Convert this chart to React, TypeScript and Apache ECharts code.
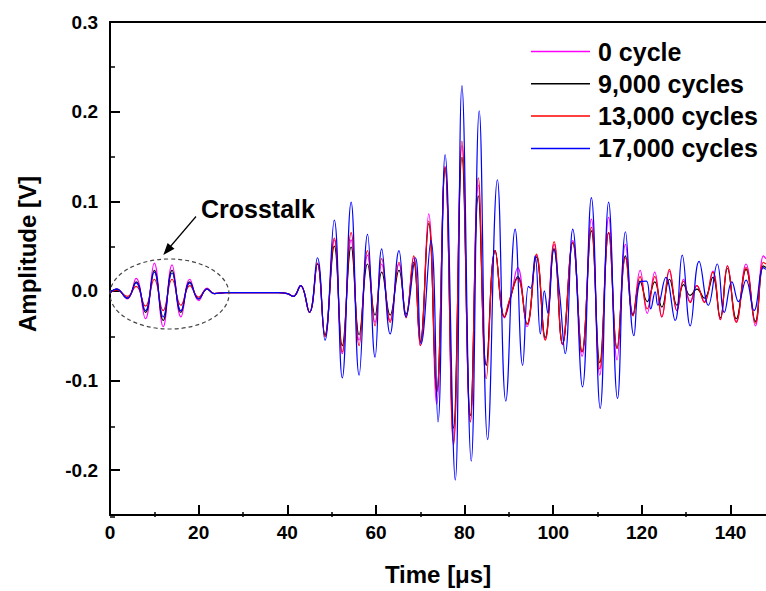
import React, { useEffect, useRef } from "react";
import * as echarts from "echarts";

// ---- data (time in µs, amplitude in V) at peaks/troughs ----
const seriesNames = ["0 cycle", "9,000 cycles", "13,000 cycles", "17,000 cycles"];
const seriesColors = ["#ff00ff", "#000000", "#ff0000", "#0000ff"];

const cycle0: [number, number][] = [
  [0, -0.002], [1.5, 0.002], [3.9, -0.009], [5.9, 0.014], [8.0, -0.031], [10.0, 0.031], [12.0, -0.040],
  [14.0, 0.029], [16.0, -0.029], [18.0, 0.013], [20.0, -0.011], [21.9, 0.003], [23.5, -0.003], [26, -0.002],
  [30, -0.002], [34, -0.002], [38, -0.002], [40, -0.003], [41.4, -0.006], [43.0, 0.006], [45.0, -0.024],
  [46.8, 0.030], [48.5, -0.050], [50.6, 0.057], [52.4, -0.070], [54.4, 0.057], [56.2, -0.055], [58.1, 0.040],
  [59.8, -0.035], [61.3, 0.030], [63.2, -0.033], [65.2, 0.030], [66.8, -0.028], [68.5, 0.037], [70.0, -0.061],
  [71.9, 0.086], [73.7, -0.126], [75.6, 0.139], [77.5, -0.168], [79.4, 0.162], [81.3, -0.146], [83.1, 0.118],
  [84.9, -0.083], [86.9, 0.045], [89.0, -0.030], [90.3, -0.010], [92.0, 0.026], [94.1, -0.040], [96.2, 0.040],
  [98.2, -0.054], [100.2, 0.052], [102.1, -0.060], [104.4, 0.056], [106.5, -0.073], [108.6, 0.080],
  [110.5, -0.094], [112.5, 0.082], [114.4, -0.077], [116.3, 0.052], [118.0, -0.026], [119.6, 0.023],
  [121.2, -0.025], [122.9, 0.021], [124.5, -0.029], [126.2, 0.022], [127.9, -0.022], [129.4, 0.013],
  [130.9, -0.012], [132.4, 0.006], [134.1, -0.012], [136.0, 0.022], [137.7, -0.032], [139.3, 0.028],
  [141.3, -0.034], [143.5, 0.030], [145.6, -0.039], [147.4, 0.039], [148, 0.036],
];

const cycle9000: [number, number][] = [
  [0, -0.002], [1.5, 0.002], [3.9, -0.008], [5.9, 0.010], [8.0, -0.024], [10.0, 0.023], [12.0, -0.033],
  [14.0, 0.023], [16.0, -0.024], [18.0, 0.010], [20.0, -0.009], [21.9, 0.002], [23.5, -0.003], [26, -0.002],
  [30, -0.002], [34, -0.002], [38, -0.002], [40, -0.003], [41.4, -0.006], [43.0, 0.006], [45.0, -0.024],
  [46.8, 0.030], [48.5, -0.049], [50.6, 0.050], [52.4, -0.061], [54.4, 0.049], [56.2, -0.049], [58.1, 0.030],
  [59.8, -0.027], [61.3, 0.021], [63.2, -0.027], [65.2, 0.023], [66.8, -0.026], [68.5, 0.032], [70.0, -0.057],
  [71.9, 0.075], [73.7, -0.113], [75.6, 0.137], [77.5, -0.153], [79.4, 0.149], [81.3, -0.139], [83.1, 0.106],
  [84.9, -0.083], [86.9, 0.045], [89.0, -0.029], [90.3, -0.008], [92.0, 0.016], [94.1, -0.037], [96.2, 0.038],
  [98.2, -0.052], [100.2, 0.047], [102.1, -0.059], [104.4, 0.054], [106.5, -0.068], [108.6, 0.067],
  [110.5, -0.080], [112.5, 0.065], [114.4, -0.064], [116.3, 0.039], [118.0, -0.027], [119.6, 0.011],
  [121.2, -0.012], [122.9, 0.010], [124.5, -0.018], [126.2, 0.013], [127.9, -0.016], [129.4, 0.007],
  [130.9, -0.005], [132.4, 0.002], [134.1, -0.008], [136.0, 0.015], [137.7, -0.030], [139.3, 0.025],
  [141.3, -0.031], [143.5, 0.024], [145.6, -0.034], [147.4, 0.028], [148, 0.026],
];

const cycle13000: [number, number][] = [
  [0, -0.002], [1.5, 0.001], [3.9, -0.006], [5.9, 0.005], [8.0, -0.017], [10.0, 0.013], [12.0, -0.022],
  [14.0, 0.013], [16.0, -0.016], [18.0, 0.006], [20.0, -0.007], [21.9, 0.002], [23.5, -0.003], [26, -0.002],
  [30, -0.002], [34, -0.002], [38, -0.002], [40, -0.003], [41.4, -0.006], [43.0, 0.006], [45.0, -0.024],
  [46.8, 0.031], [48.5, -0.051], [50.6, 0.059], [52.4, -0.068], [54.4, 0.065], [56.2, -0.061], [58.1, 0.045],
  [59.8, -0.039], [61.3, 0.036], [63.2, -0.035], [65.2, 0.032], [66.8, -0.030], [68.5, 0.039], [70.0, -0.061],
  [71.9, 0.078], [73.7, -0.113], [75.6, 0.138], [77.5, -0.172], [79.4, 0.167], [81.3, -0.146], [83.1, 0.126],
  [84.9, -0.098], [86.9, 0.045], [89.0, -0.029], [90.0, -0.012], [92.0, 0.014], [94.1, -0.037], [96.2, 0.041],
  [98.2, -0.055], [100.2, 0.055], [102.1, -0.059], [104.4, 0.054], [106.5, -0.068], [108.6, 0.071],
  [110.5, -0.087], [112.5, 0.065], [114.4, -0.064], [116.3, 0.037], [118.0, -0.028], [119.6, 0.016],
  [121.2, -0.020], [122.9, 0.016], [124.5, -0.029], [126.2, 0.024], [127.9, -0.022], [129.4, 0.011],
  [130.9, -0.013], [132.4, 0.006], [134.1, -0.013], [136.0, 0.021], [137.7, -0.032], [139.3, 0.028],
  [141.3, -0.035], [143.5, 0.026], [145.6, -0.036], [147.4, 0.032], [148, 0.030],
];

const cycle17000: [number, number][] = [
  [0, -0.002], [1.5, 0.002], [3.9, -0.008], [5.9, 0.009], [8.0, -0.022], [10.0, 0.021], [12.0, -0.029],
  [14.0, 0.020], [16.0, -0.022], [18.0, 0.009], [20.0, -0.009], [21.9, 0.002], [23.5, -0.003], [26, -0.002],
  [30, -0.002], [34, -0.002], [38, -0.002], [40, -0.003], [41.4, -0.006], [43.0, 0.006], [45.0, -0.024],
  [46.8, 0.037], [48.5, -0.055], [50.6, 0.079], [52.4, -0.097], [54.4, 0.099], [56.2, -0.094], [58.1, 0.063],
  [59.8, -0.074], [61.3, 0.047], [63.2, -0.048], [65.2, 0.045], [66.8, -0.029], [68.9, 0.037], [70.2, -0.059],
  [72.4, 0.056], [74.0, -0.146], [75.6, 0.152], [77.9, -0.211], [79.4, 0.229], [81.5, -0.190], [83.3, 0.201],
  [85.2, -0.166], [87.4, 0.124], [89.3, -0.123], [91.4, 0.069], [93.1, -0.083], [94.4, 0.005], [94.9, 0.003],
  [95.9, 0.039], [97.1, -0.048], [98.0, 0.0], [98.8, -0.025], [100.1, 0.047], [101.4, -0.001], [102.7, -0.070],
  [104.4, 0.069], [106.6, -0.107], [108.6, 0.104], [110.6, -0.131], [112.5, 0.099], [114.5, -0.120],
  [116.3, 0.066], [118.2, -0.050], [119.6, 0.010], [121.0, 0.011], [122.0, -0.020], [123.0, -0.001],
  [123.6, -0.016], [125.4, 0.015], [127.5, -0.033], [129.1, 0.040], [130.9, -0.039], [132.9, 0.033],
  [135.0, -0.016], [137.0, 0.030], [138.6, -0.024], [140.3, 0.010], [141.8, -0.012], [143.5, 0.012],
  [145.3, -0.022], [147.4, 0.026], [148, 0.024],
];

const seriesData = [cycle0, cycle9000, cycle13000, cycle17000];

const xTicks = [0, 20, 40, 60, 80, 100, 120, 140];
const xMinorTicks = [10, 30, 50, 70, 90, 110, 130];
const yTicks = [-0.2, -0.1, 0.0, 0.1, 0.2, 0.3];
const yMinorTicks = [-0.25, -0.15, -0.05, 0.05, 0.15, 0.25];

const FONT = "'Liberation Sans', Arial, Helvetica, sans-serif";

export default function App() {
  const ref = useRef<HTMLDivElement>(null);

  useEffect(() => {
    if (!ref.current) return;
    const chart = echarts.init(ref.current, null, { renderer: "svg" });

    const labelStyle = { color: "#000", fontSize: 19, fontWeight: "bold" as const, fontFamily: FONT };
    const gridBox = { left: 110, right: 0, top: 22, bottom: 74, containLabel: false };

    const option: any = {
      animation: false,
      backgroundColor: "#fff",
      grid: [gridBox, { ...gridBox }],
      legend: {
        data: seriesNames.map((n, i) => ({ name: n, icon: "rect", itemStyle: { color: seriesColors[i] } })),
        orient: "vertical",
        left: 526,
        top: 34,
        itemWidth: 59,
        itemHeight: 1.5,
        itemGap: 7.3,
        textStyle: { color: "#000", fontSize: 25, fontWeight: "bold", fontFamily: FONT, padding: [0, 0, 0, 3] },
      },
      xAxis: [
        {
          type: "value",
          gridIndex: 0,
          min: 0,
          max: 148,
          position: "bottom",
          name: "Time [\u03bcs]",
          nameLocation: "middle",
          nameGap: 47,
          nameTextStyle: { color: "#000", fontSize: 24, fontWeight: "bold", fontFamily: FONT },
          axisLine: { show: true, onZero: false, lineStyle: { color: "#000", width: 2 } },
          axisTick: { show: true, inside: true, length: 10, customValues: xTicks, lineStyle: { color: "#000", width: 2 } },
          axisLabel: { ...labelStyle, margin: 8, customValues: xTicks },
          splitLine: { show: false },
        },
        {
          type: "value",
          gridIndex: 0,
          min: 0,
          max: 148,
          position: "top",
          axisLine: { show: true, onZero: false, lineStyle: { color: "#000", width: 2 } },
          axisTick: { show: false },
          axisLabel: { show: false },
          splitLine: { show: false },
        },
        {
          type: "value",
          gridIndex: 1,
          min: 0,
          max: 148,
          position: "bottom",
          axisLine: { show: false, onZero: false },
          axisTick: { show: true, inside: true, length: 5, customValues: xMinorTicks, lineStyle: { color: "#000", width: 1.5 } },
          axisLabel: { show: false },
          splitLine: { show: false },
        },
      ],
      yAxis: [
        {
          type: "value",
          gridIndex: 0,
          min: -0.25,
          max: 0.3,
          position: "left",
          axisLine: { show: true, onZero: false, lineStyle: { color: "#000", width: 2 } },
          axisTick: { show: true, inside: true, length: 10, customValues: yTicks, lineStyle: { color: "#000", width: 2 } },
          axisLabel: { ...labelStyle, margin: 12, customValues: yTicks, formatter: (v: number) => v.toFixed(1) },
          splitLine: { show: false },
        },
        {
          type: "value",
          gridIndex: 1,
          min: -0.25,
          max: 0.3,
          position: "left",
          axisLine: { show: false, onZero: false },
          axisTick: { show: true, inside: true, length: 5, customValues: yMinorTicks, lineStyle: { color: "#000", width: 1.5 } },
          axisLabel: { show: false },
          splitLine: { show: false },
        },
      ],
      series: seriesNames.map((name, i) => ({
        name,
        type: "line",
        xAxisIndex: 0,
        yAxisIndex: 0,
        data: seriesData[i],
        smooth: 0.45,
        symbol: "none",
        showSymbol: false,
        clip: true,
        lineStyle: { color: seriesColors[i], width: 1.2 },
        itemStyle: { color: seriesColors[i] },
        z: 2 + i,
      })),
      graphic: [
        {
          type: "text",
          x: 27,
          y: 254,
          rotation: Math.PI / 2,
          style: {
            text: "Amplitude [V]",
            fill: "#000",
            fontSize: 24,
            fontWeight: "bold",
            fontFamily: FONT,
            align: "center",
            verticalAlign: "middle",
          },
        },
        {
          type: "text",
          x: 201,
          y: 209,
          style: {
            text: "Crosstalk",
            fill: "#000",
            fontSize: 25,
            fontWeight: "bold",
            fontFamily: FONT,
            align: "left",
            verticalAlign: "middle",
          },
        },
        {
          type: "ellipse",
          shape: { cx: 169.5, cy: 294, rx: 59.5, ry: 35 },
          style: { fill: "none", stroke: "#444", lineWidth: 1.2, lineDash: [4, 3] },
          z: 10,
        },
        {
          type: "line",
          shape: { x1: 196, y1: 216.5, x2: 170, y2: 247 },
          style: { stroke: "#000", lineWidth: 1.2 },
          z: 10,
        },
        {
          type: "polygon",
          shape: { points: [[163.3, 255], [174.5, 248.8], [167.6, 242.9]] },
          style: { fill: "#000" },
          z: 10,
        },
      ],
    };

    chart.setOption(option);
    return () => chart.dispose();
  }, []);

  return (
    <div
      ref={ref}
      style={{ position: "absolute", left: 0, top: 0, width: 766, height: 591, background: "#fff" }}
    />
  );
}
